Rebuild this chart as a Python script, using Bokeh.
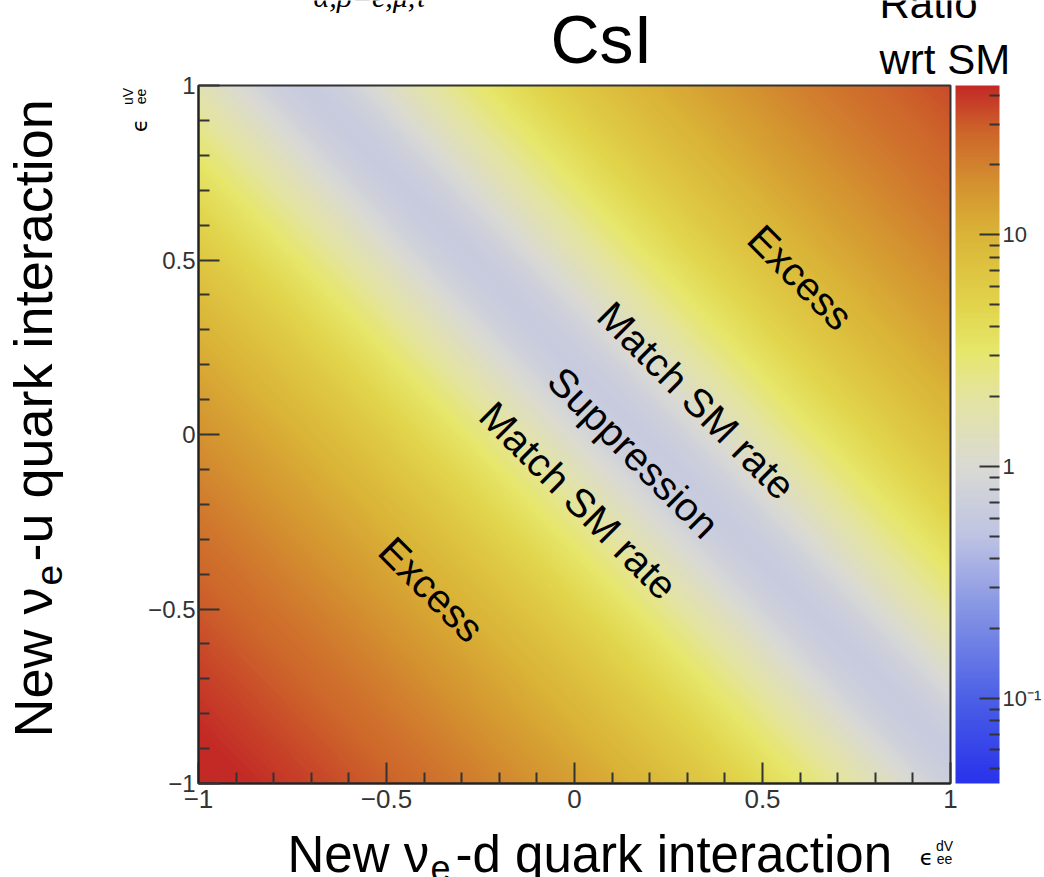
import numpy as np
from bokeh.plotting import figure
from bokeh.models import LogColorMapper, ColorBar, FixedTicker, Label, Range1d
from bokeh.embed import file_html
from bokeh.resources import INLINE

# ---------------- data ----------------
# nuclear / electroweak parameters of the CsI target (average of Cs and I)
Z_csi = 54
N_csi = 76
sin2_theta_w = 0.2387
# share of the SNS event rate carried by nu_e (only that flavour feels eps_ee)
frac_nu_e = 0.36
frac_nu_mu = 0.64
# colour axis range
ratio_low = 0.043
ratio_high = 44.0

eps_range = [-1.0, 1.0]
x_ticks = [-1.0, -0.5, 0.0, 0.5, 1.0]
y_ticks = [-1.0, -0.5, 0.0, 0.5, 1.0]
x_minor = [-0.9, -0.8, -0.7, -0.6, -0.4, -0.3, -0.2, -0.1,
           0.1, 0.2, 0.3, 0.4, 0.6, 0.7, 0.8, 0.9]
y_minor = list(x_minor)
tick_text = {-1.0: "\u22121", -0.5: "\u22120.5", 0.0: "0", 0.5: "0.5", 1.0: "1"}

cbar_ticks = [0.1, 1.0, 10.0]
cbar_minor = [0.05, 0.06, 0.07, 0.08, 0.09,
              0.2, 0.3, 0.4, 0.5, 0.6, 0.7, 0.8, 0.9,
              2, 3, 4, 5, 6, 7, 8, 9, 20, 30, 40]
cbar_tick_text = {0.1: "10\u207b\u00b9", 1.0: "1", 10.0: "10"}

# colour bar colours, at these ratio values
cbar_stop_ratio = [0.043, 0.1, 0.25, 0.5, 1.0, 2.0, 3.2, 5.0, 10.0, 16.0, 28.0, 44.0]
cbar_stop_rgb = [(40, 50, 235), (75, 95, 230), (135, 150, 228), (190, 195, 227),
                 (218, 218, 212), (228, 228, 160), (230, 230, 105), (225, 212, 75),
                 (218, 180, 55), (212, 148, 48), (205, 100, 42), (195, 40, 38)]

title_text = "CsI"
cbar_title = ["Ratio", "wrt SM"]
region_texts = ["Excess", "Match SM rate", "Suppression", "Match SM rate", "Excess"]

# ---------------- model grid ----------------
eps_d = np.linspace(eps_range[0], eps_range[1], 377)
eps_u = np.linspace(eps_range[0], eps_range[1], 350)
D, U = np.meshgrid(eps_d, eps_u)
g_p = 0.5 - 2 * sin2_theta_w
g_n = -0.5
qw_sm = Z_csi * g_p + N_csi * g_n
qw_new = Z_csi * (g_p + 2 * U + D) + N_csi * (g_n + U + 2 * D)
ratio = frac_nu_mu + frac_nu_e * (qw_new / qw_sm) ** 2

# ---------------- palette ----------------
lo, hi = np.log10(ratio_low), np.log10(ratio_high)
pos = lo + (np.arange(256) + 0.5) / 256 * (hi - lo)
stop_log = np.log10(cbar_stop_ratio)
rgb = np.array(cbar_stop_rgb, dtype=float)
palette = []
for v in pos:
    r = np.interp(v, stop_log, rgb[:, 0])
    g = np.interp(v, stop_log, rgb[:, 1])
    b = np.interp(v, stop_log, rgb[:, 2])
    palette.append("#%02x%02x%02x" % (int(round(r)), int(round(g)), int(round(b))))

mapper = LogColorMapper(palette=palette, low=ratio_low, high=ratio_high)

# ---------------- figure ----------------
W, H = 1044, 877
FL, FT, FW, FH = 198, 85, 752, 698  # heat-map box in canvas pixels
SX, SY = FW / 2, FH / 2


def dx(px):
    return -1 + (px - FL) / SX


def dy(py):
    return 1 - (py - FT) / SY


p = figure(width=W, height=H,
           x_range=Range1d(dx(0), dx(W)), y_range=Range1d(dy(H), dy(0)),
           output_backend="svg", toolbar_location=None, min_border=0)
p.min_border_left = p.min_border_right = p.min_border_top = p.min_border_bottom = 0
p.title.visible = False
p.grid.visible = False
p.outline_line_color = None
p.background_fill_color = "white"
p.border_fill_color = "white"

p.image(image=[ratio], x=eps_range[0], y=eps_range[0],
        dw=eps_range[1] - eps_range[0], dh=eps_range[1] - eps_range[0],
        color_mapper=mapper)
# frame around the map
p.quad(left=[eps_range[0]], right=[eps_range[1]], bottom=[eps_range[0]], top=[eps_range[1]],
       fill_color=None, line_color="#333333", line_width=2)

for ax, ticks, minor, fs, so in [(p.xaxis[0], x_ticks, x_minor, "26px", 6),
                                 (p.yaxis[0], y_ticks, y_minor, "24px", 3)]:
    ax.fixed_location = eps_range[0]
    ax.bounds = (eps_range[0], eps_range[1])
    ax.ticker = FixedTicker(ticks=ticks, minor_ticks=minor)
    ax.major_label_overrides = tick_text
    ax.axis_line_width = 2
    ax.axis_line_color = "#222222"
    ax.major_tick_in = 21
    ax.major_tick_out = 0
    ax.minor_tick_in = 11
    ax.minor_tick_out = 0
    ax.major_tick_line_width = 2
    ax.minor_tick_line_width = 2
    ax.major_tick_line_color = "#333333"
    ax.minor_tick_line_color = "#333333"
    ax.major_label_text_font = "Liberation Sans"
    ax.major_label_text_font_size = fs
    ax.major_label_text_color = "#333333"
    ax.major_label_standoff = so

cb = ColorBar(color_mapper=mapper,
              ticker=FixedTicker(ticks=cbar_ticks, minor_ticks=cbar_minor),
              major_label_overrides=cbar_tick_text,
              width=44, height=FH, padding=0, margin=0,
              location=(955, H - (FT + FH)),
              major_tick_in=20, major_tick_out=0, minor_tick_in=10, minor_tick_out=0,
              major_tick_line_color="#333333", major_tick_line_width=2,
              minor_tick_line_color="#333333", minor_tick_line_width=2,
              label_standoff=3, major_label_text_font="Liberation Sans",
              major_label_text_font_size="22px", major_label_text_color="#333333",
              bar_line_color=None, border_line_color=None, background_fill_color=None)
p.add_layout(cb)

SANS = "Liberation Sans"
BASE_SHIFT = 0.36  # rendered baseline sits this many em below the anchor


def add_label(px, py, text, size, angle=0.0, align="left", baseline="alphabetic",
              font=SANS, style="normal", color="black"):
    if baseline == "alphabetic":
        # move the anchor "up" in the text's own frame so the baseline lands at (px, py)
        s = BASE_SHIFT * size
        px = px - s * np.sin(angle)
        py = py - s * np.cos(angle)
    p.add_layout(Label(x=dx(px), y=dy(py), text=text, angle=angle,
                       text_align=align, text_baseline=baseline,
                       text_font=font, text_font_size="%dpx" % size,
                       text_font_style=style, text_color=color))


# title and colour bar title
add_label(601, 63, title_text, 68, align="center")
add_label(879, 18, cbar_title[0], 42)
add_label(879, 74, cbar_title[1], 42)
# cut formula fragment at the top
add_label(313, 7, "\u03b1,\u03b2=e,\u03bc,\u03c4", 30, font="Liberation Serif", style="italic")

# region annotations
q = -np.pi / 4
add_label(800, 277, region_texts[0], 40, angle=q, align="center", baseline="middle")
add_label(696, 400, region_texts[1], 40, angle=q, align="center", baseline="middle")
add_label(633, 452, region_texts[2], 40, angle=q, align="center", baseline="middle")
add_label(578, 500, region_texts[3], 40, angle=q, align="center", baseline="middle")
add_label(431, 589, region_texts[4], 40, angle=q, align="center", baseline="middle")

# x axis title
add_label(287, 872, "New \u03bd", 51)
add_label(430, 880, "e", 36)
add_label(455, 872, "-d quark interaction", 51)
add_label(926, 857, "\u03f5", 22, align="center", baseline="middle", font="DejaVu Sans")
add_label(944, 845, "dV", 14, align="center", baseline="middle")
add_label(944, 858, "ee", 14, align="center", baseline="middle")

# y axis title (rotated)
r = np.pi / 2
add_label(52, 737, "New \u03bd", 54, angle=r)
add_label(62, 585, "e", 37, angle=r)
add_label(52, 561, "-u quark interaction", 54, angle=r)
add_label(139, 125, "\u03f5", 22, angle=r, align="center", baseline="middle", font="DejaVu Sans")
add_label(127, 96, "uV", 14, angle=r, align="center", baseline="middle")
add_label(140, 96, "ee", 14, angle=r, align="center", baseline="middle")

open("out.html", "w").write(file_html(p, INLINE))
